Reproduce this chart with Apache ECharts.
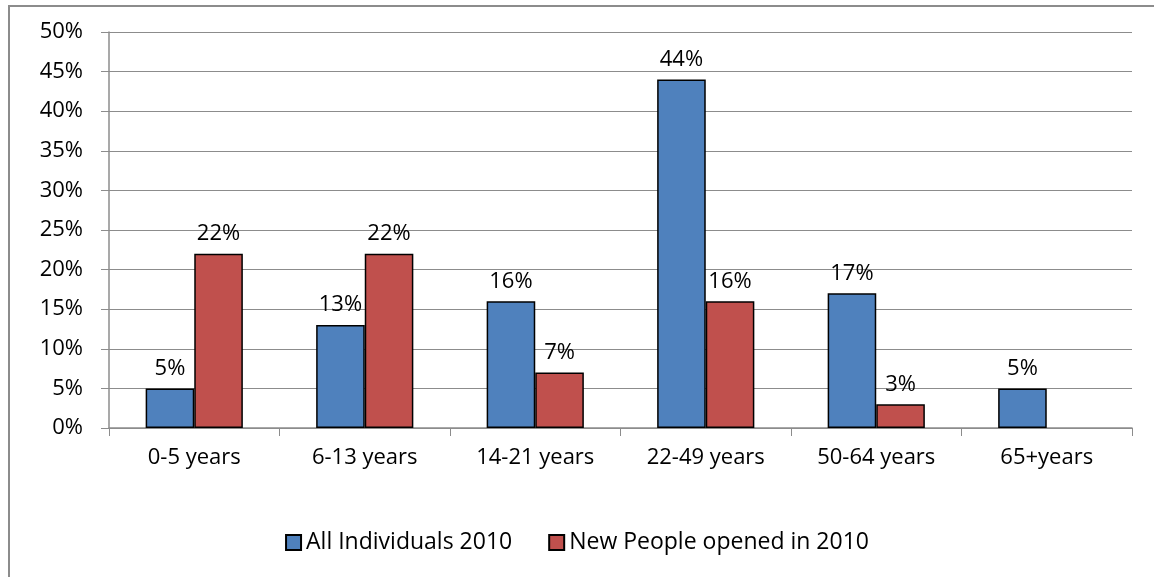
<!DOCTYPE html>
<html>
<head>
<meta charset="utf-8">
<script src="https://cdn.jsdelivr.net/npm/echarts@6/dist/echarts.min.js"></script>
<style>
    html, body { margin: 0; padding: 0; background: #fff; }
    #frame {
        position: absolute; left: 8px; top: 5px; width: 1146px; height: 572px;
        border: 2px solid #8c8c8c; border-right: none; border-bottom: none; box-sizing: border-box;
    }
    #chart { position: absolute; left: 0; top: 0; width: 1154px; height: 577px; }
</style>
</head>
<body>
<div id="frame"></div>
<div id="chart"></div>
<script>
// 数据
const categories = ['0-5 years', '6-13 years', '14-21 years', '22-49 years', '50-64 years', '65+years'];
const allIndividuals = [5, 13, 16, 44, 17, 5];
const newPeople = [22, 22, 7, 16, 3, null];
const seriesNames = ['All Individuals 2010', 'New People opened in 2010'];

const FONT = 'Open Sans';
const FS = 22;

document.addEventListener('DOMContentLoaded', () => {
    const chart = echarts.init(document.getElementById('chart'));
    chart.setOption({
        animation: false,
        textStyle: { fontFamily: FONT },
        legend: {
            data: seriesNames,
            top: 526,
            left: 'center',
            itemWidth: 15,
            itemHeight: 15,
            itemGap: 36,
            icon: 'rect',
            textStyle: { fontSize: 23, color: '#000', fontFamily: FONT }
        },
        grid: {
            left: 109,
            right: 22,
            top: 32,
            bottom: 149
        },
        xAxis: {
            type: 'category',
            data: categories,
            axisLine: { lineStyle: { color: '#8c8c8c', width: 1.5 } },
            axisTick: { show: true, length: 8, alignWithLabel: false, lineStyle: { color: '#8c8c8c' } },
            axisLabel: { fontSize: FS, color: '#000', margin: 19, fontFamily: FONT }
        },
        yAxis: {
            type: 'value',
            min: 0,
            max: 50,
            interval: 5,
            axisLine: { show: true, lineStyle: { color: '#8c8c8c', width: 1.5 } },
            axisTick: { show: true, inside: false, length: 8, lineStyle: { color: '#8c8c8c' } },
            axisLabel: { formatter: '{value}%', fontSize: FS, color: '#000', margin: 26, fontFamily: FONT },
            splitLine: { show: true, lineStyle: { color: '#8c8c8c', width: 1.2 } }
        },
        series: [{
            name: seriesNames[0],
            type: 'bar',
            data: allIndividuals,
            barWidth: '28.5%',
            barGap: '0%',
            itemStyle: { color: '#4f81bd', borderColor: '#000', borderWidth: 1.5 },
            label: { show: true, position: 'top', formatter: '{c}%', fontSize: FS, color: '#000', distance: 9 }
        }, {
            name: seriesNames[1],
            type: 'bar',
            data: newPeople,
            barWidth: '28.5%',
            itemStyle: { color: '#c0504d', borderColor: '#000', borderWidth: 1.5 },
            label: { show: true, position: 'top', formatter: '{c}%', fontSize: FS, color: '#000', distance: 9 }
        }]
    });
});
</script>
</body>
</html>
